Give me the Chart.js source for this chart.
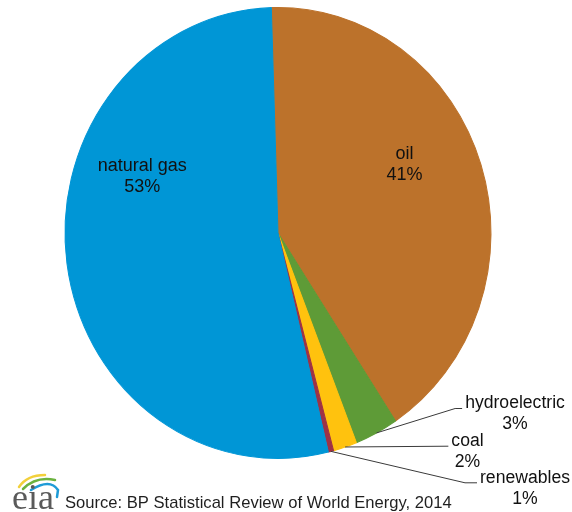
<!DOCTYPE html>
<html>
<head>
<meta charset="utf-8">
<script src="https://cdn.jsdelivr.net/npm/chart.js@4.4.1/dist/chart.umd.min.js"></script>
<style>
  html, body { margin: 0; padding: 0; background: #fff; }
  #wrap { position: relative; width: 572px; height: 512px; }
</style>
</head>
<body>
<div id="wrap"><canvas id="pie" width="572" height="512"></canvas></div>
<script>
// slices go clockwise from 12 o'clock, same order as the original
const fuels = ['oil', 'hydroelectric', 'coal', 'renewables', 'natural gas'];
const shares = [41.2, 3.3, 1.8, 0.4, 53.3];
const shareLabels = ['41%', '3%', '2%', '1%', '53%'];
const fuelColors = ['#BC722B', '#5E9B37', '#FFC20E', '#9E3246', '#0096D6'];
const sourceNote = 'Source: BP Statistical Review of World Energy, 2014';

// the excel pie is a little taller than wide
const STRETCH_Y = 226 / 213.5;
const FONT = '"Liberation Sans", Arial, sans-serif';

// where each label block sits, px from the pie centre; tail = flat end of leader line
const labelSpots = [
  { dx: 126.5, dy: -68.5 },
  { dx: 237, dy: 181, outside: true, tail: 7 },
  { dx: 189.5, dy: 218.7, outside: true, tail: 0 },
  { dx: 247, dy: 255.3, outside: true, tail: 12 },
  { dx: -135.7, dy: -56.8 },
];

const stretchPlugin = {
  id: 'stretch',
  beforeDatasetsDraw(chart) {
    const arc = chart.getDatasetMeta(0).data[0];
    const ctx = chart.ctx;
    ctx.save();
    ctx.translate(arc.x, arc.y);
    ctx.scale(1, STRETCH_Y);
    ctx.translate(-arc.x, -arc.y);
  },
  afterDatasetsDraw(chart) {
    chart.ctx.restore();
  }
};

const labelPlugin = {
  id: 'sliceLabels',
  afterDraw(chart) {
    const ctx = chart.ctx;
    const arcs = chart.getDatasetMeta(0).data;
    ctx.save();
    ctx.textAlign = 'center';
    ctx.textBaseline = 'middle';
    ctx.fillStyle = '#111';
    arcs.forEach((arc, i) => {
      const spot = labelSpots[i];
      const tx = arc.x + spot.dx;
      const ty = arc.y + spot.dy;
      const lh = 21;
      ctx.font = (spot.outside ? '17.6px ' : '18px ') + FONT;
      ctx.fillText(fuels[i], tx, ty - lh / 2);
      ctx.fillText(shareLabels[i], tx, ty + lh / 2);
      if (!spot.outside) return;

      const mid = (arc.startAngle + arc.endAngle) / 2;
      const sx = arc.x + Math.cos(mid) * arc.outerRadius;
      const sy = arc.y + Math.sin(mid) * arc.outerRadius * STRETCH_Y;
      const w = ctx.measureText(fuels[i]).width;
      const ex = tx - w / 2 - 3;
      const ey = ty - lh / 2 + 5;
      ctx.strokeStyle = '#3a3a3a';
      ctx.lineWidth = 1;
      ctx.beginPath();
      ctx.moveTo(sx, sy);
      ctx.lineTo(ex - spot.tail, ey);
      ctx.lineTo(ex, ey);
      ctx.stroke();
    });

    // source line + eia mark
    ctx.textAlign = 'left';
    ctx.font = '16.6px ' + FONT;
    ctx.fillStyle = '#1f1f1f';
    ctx.fillText(sourceNote, 65, 503);

    ctx.lineCap = 'round';
    ctx.lineWidth = 2.5;
    ctx.strokeStyle = '#F2D03B';
    ctx.beginPath(); ctx.moveTo(19, 487); ctx.quadraticCurveTo(27, 475, 45, 475); ctx.stroke();
    ctx.strokeStyle = '#6BB23F';
    ctx.beginPath(); ctx.moveTo(23, 489); ctx.quadraticCurveTo(36, 476, 55, 480); ctx.stroke();
    ctx.strokeStyle = '#1E9BD7';
    ctx.beginPath(); ctx.moveTo(31, 490); ctx.quadraticCurveTo(50, 478, 58, 490); ctx.lineTo(57, 497); ctx.stroke();

    ctx.font = '36px "Liberation Serif", "Times New Roman", serif';
    ctx.fillStyle = '#5a5a5a';
    ctx.textBaseline = 'alphabetic';
    ctx.fillText('eia', 12, 509);
    ctx.restore();
  }
};

new Chart(document.getElementById('pie'), {
  type: 'pie',
  data: {
    labels: fuels,
    datasets: [{
      data: shares,
      backgroundColor: fuelColors,
      borderColor: fuelColors,
      borderWidth: 1,
      hoverOffset: 0,
    }],
  },
  options: {
    responsive: false,
    animation: false,
    rotation: -1.8,
    layout: { padding: { left: 64.5, right: 80.5, top: 19.5, bottom: 65.5 } },
    plugins: {
      legend: { display: false },
      tooltip: { enabled: false },
    },
  },
  plugins: [stretchPlugin, labelPlugin],
});
</script>
</body>
</html>
